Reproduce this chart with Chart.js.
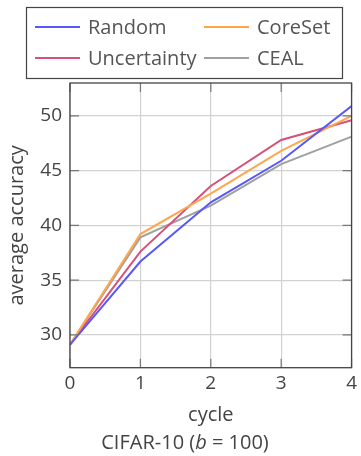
<!DOCTYPE html>
<html><head><meta charset="utf-8">
<script src="https://cdn.jsdelivr.net/npm/chart.js@4"></script>
<style>html,body{margin:0;padding:0;background:#fff}#wrap{width:361px;height:456px}</style>
</head><body><div id="wrap"><canvas id="c" width="361" height="456"></canvas></div>
<script>
// Average accuracy per active-learning cycle, CIFAR-10 with budget b = 100
const cycles = [0, 1, 2, 3, 4];
const randomAcc = [29.1, 36.7, 42.1, 45.9, 50.9];
const coresetAcc = [29.1, 39.2, 42.9, 46.8, 50.0];
const uncertaintyAcc = [29.1, 37.6, 43.6, 47.8, 49.6];
const cealAcc = [29.1, 38.9, 41.8, 45.6, 48.1];
const yTicks = [30, 35, 40, 45, 50];
const xTicks = [0, 1, 2, 3, 4];

const FONT = "'Open Sans', 'Noto Sans', sans-serif";
const TEXT = '#444';

function series(label, values, color) {
  return {
    label, borderColor: color, backgroundColor: color,
    data: cycles.map((x, i) => ({ x, y: values[i] })),
    borderWidth: 2, pointRadius: 0, tension: 0, fill: false
  };
}

// Frame, inner tick marks, two-column legend and caption
const decor = {
  id: 'decor',
  afterDatasetsDraw(chart) {
    const { ctx, chartArea: a, scales } = chart;
    ctx.save();
    // inner tick marks
    ctx.strokeStyle = '#777'; ctx.lineWidth = 1.2;
    const L = 9;
    yTicks.forEach(v => {
      const y = scales.y.getPixelForValue(v);
      ctx.beginPath();
      ctx.moveTo(a.left, y); ctx.lineTo(a.left + L, y);
      ctx.moveTo(a.right, y); ctx.lineTo(a.right - L, y);
      ctx.stroke();
    });
    xTicks.forEach(v => {
      const x = scales.x.getPixelForValue(v);
      ctx.beginPath();
      ctx.moveTo(x, a.bottom); ctx.lineTo(x, a.bottom - L);
      ctx.moveTo(x, a.top); ctx.lineTo(x, a.top + L);
      ctx.stroke();
    });
    // frame
    ctx.strokeStyle = '#444'; ctx.lineWidth = 1.3;
    ctx.strokeRect(a.left, a.top, a.right - a.left, a.bottom - a.top);

    // legend
    ctx.lineWidth = 1.2;
    ctx.strokeStyle = '#444';
    ctx.strokeRect(26.5, 7.5, 316, 71);
    const cols = [{ lx: 35, tx: 88 }, { lx: 204, tx: 257 }];
    const rows = [27, 58];
    ctx.font = '20px ' + FONT;
    ctx.textBaseline = 'middle';
    ctx.textAlign = 'left';
    chart.data.datasets.forEach((ds, i) => {
      const c = cols[i % 2], r = rows[Math.floor(i / 2)];
      ctx.strokeStyle = ds.borderColor; ctx.lineWidth = 2;
      ctx.beginPath(); ctx.moveTo(c.lx, r); ctx.lineTo(c.lx + 45, r); ctx.stroke();
      ctx.fillStyle = '#555';
      ctx.fillText(ds.label, c.tx, r + 1);
    });

    // caption: CIFAR-10 (b = 100)
    const parts = [
      { t: 'CIFAR-10 (', f: '20px ' + FONT },
      { t: 'b', f: 'italic 20px ' + FONT },
      { t: ' = ', f: '20px ' + FONT },
      { t: '100)', f: '20px ' + FONT }
    ];
    let w = 0;
    parts.forEach(p => { ctx.font = p.f; p.w = ctx.measureText(p.t).width; w += p.w; });
    let x = 185 - w / 2;
    ctx.fillStyle = TEXT;
    parts.forEach(p => { ctx.font = p.f; ctx.fillText(p.t, x, 443); x += p.w; });
    ctx.restore();
  }
};

new Chart(document.getElementById('c'), {
  type: 'line',
  data: {
    datasets: [
      series('Random', randomAcc, 'rgb(88, 88, 250)'),
      series('CoreSet', coresetAcc, 'rgb(255, 166, 77)'),
      series('Uncertainty', uncertaintyAcc, 'rgb(214, 80, 122)'),
      series('CEAL', cealAcc, 'rgb(160, 160, 160)')
    ]
  },
  options: {
    responsive: false, animation: false, devicePixelRatio: 1,
    layout: { padding: { top: 83, right: 5, left: 0, bottom: 0 } },
    plugins: { legend: { display: false }, tooltip: { enabled: false } },
    scales: {
      x: {
        type: 'linear', min: 0, max: 4,
        afterBuildTicks: s => { s.ticks = xTicks.map(v => ({ value: v })); },
        afterFit: s => { s.height = 88.3; },
        grid: { color: '#d2d2d2', lineWidth: 1.2, drawTicks: false },
        border: { display: false },
        ticks: { color: TEXT, font: { family: FONT, size: 19 }, padding: 4, maxRotation: 0 },
        title: { display: true, text: 'cycle', color: TEXT, font: { family: FONT, size: 20 }, padding: { top: 0, bottom: 29 } }
      },
      y: {
        type: 'linear', min: 27, max: 53,
        afterBuildTicks: s => { s.ticks = yTicks.map(v => ({ value: v })); },
        afterFit: s => { s.width = 70; },
        grid: { color: '#d2d2d2', lineWidth: 1.2, drawTicks: false },
        border: { display: false },
        ticks: { color: TEXT, font: { family: FONT, size: 19 }, padding: 8 },
        title: { display: true, text: 'average accuracy', color: TEXT, font: { family: FONT, size: 20 }, padding: { top: 5, bottom: 0 } }
      }
    }
  },
  plugins: [decor]
});
</script></body></html>
